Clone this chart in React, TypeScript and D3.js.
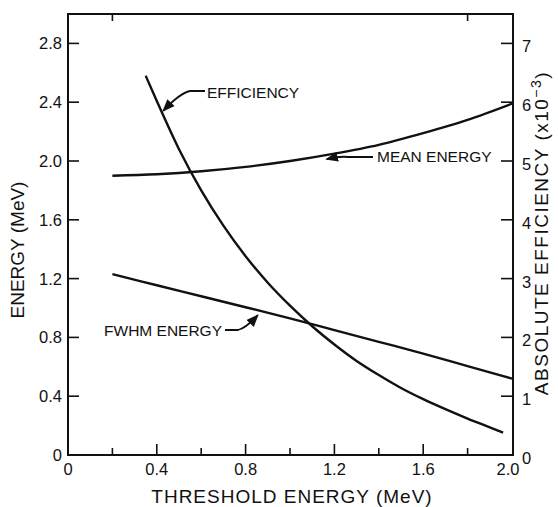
import React from "react";
import * as d3 from "d3";

// ---- data ----
const xTicksMajor = [0, 0.4, 0.8, 1.2, 1.6, 2.0];
const xTickLabels = ["0", "0.4", "0.8", "1.2", "1.6", "2.0"];
const xTicksMinor = [0.2, 0.6, 1.0, 1.4, 1.8];
const xTicksTop = [0.2, 1.8];
const yTicksLeft = [0.4, 0.8, 1.2, 1.6, 2.0, 2.4, 2.8];
const yLeftLabels = ["0", "0.4", "0.8", "1.2", "1.6", "2.0", "2.4", "2.8"];
const yTicksRight = [1, 2, 3, 4, 5, 6, 7];
const yRightLabels = ["0", "1", "2", "3", "4", "5", "6", "7"];

// mean energy (MeV) vs threshold (MeV)
const meanX = [0.2, 0.4, 0.6, 0.8, 1.0, 1.2, 1.4, 1.6, 1.8, 2.0];
const meanY = [1.9, 1.91, 1.93, 1.96, 2.0, 2.05, 2.11, 2.19, 2.28, 2.39];
// FWHM energy (MeV)
const fwhmX = [0.2, 0.4, 0.6, 0.8, 1.0, 1.2, 1.4, 1.6, 1.8, 2.0];
const fwhmY = [1.23, 1.155, 1.08, 1.005, 0.93, 0.85, 0.77, 0.69, 0.605, 0.52];
// absolute efficiency (x10^-3)
const effX = [0.35, 0.4, 0.5, 0.6, 0.7, 0.8, 0.9, 1.0, 1.1, 1.2, 1.3, 1.4, 1.5, 1.6, 1.7, 1.8, 1.9, 1.96];
const effY = [6.45, 6.02, 5.2, 4.5, 3.9, 3.38, 2.93, 2.54, 2.19, 1.88, 1.6, 1.36, 1.14, 0.95, 0.78, 0.62, 0.47, 0.38];

const FONT = "'Liberation Sans', Arial, sans-serif";

export default function App() {
  const W = 558, H = 507;
  const L = 68, R = 513, T = 14, B = 455;
  const x = d3.scaleLinear().domain([0, 2]).range([L, 512]);
  const yE = d3.scaleLinear().domain([0, 3]).range([B, T]);
  const yEff = d3.scaleLinear().domain([0, 7.5]).range([B, T]);

  const lineE = d3.line<[number, number]>().x(d => x(d[0])).y(d => yE(d[1])).curve(d3.curveMonotoneX);
  const lineEff = d3.line<[number, number]>().x(d => x(d[0])).y(d => yEff(d[1])).curve(d3.curveMonotoneX);

  const meanPts = meanX.map((v, i) => [v, meanY[i]] as [number, number]);
  const fwhmPts = fwhmX.map((v, i) => [v, fwhmY[i]] as [number, number]);
  const effPts = effX.map((v, i) => [v, effY[i]] as [number, number]);

  const stroke = "#111";

  // annotation anchor points on curves
  const effTip = [x(0.42) + 2, yEff(5.87) + 1];
  const fwhmTip = [x(0.855), yE(0.985) + 5];
  const meanTip = [x(1.165), yE(2.04) + 4];

  return (
    <svg width={W} height={H} style={{ position: "absolute", left: 0, top: 0, background: "#fff" }}
      fontFamily={FONT}>
      <defs>
        <marker id="ah" viewBox="0 0 10 10" refX="9" refY="5" markerWidth="7" markerHeight="7" orient="auto">
          <path d="M0,1 L10,5 L0,9 Z" fill={stroke} />
        </marker>
      </defs>
      {/* frame */}
      <path d={`M${L},${T} L${L},${B} L${R},${B} L${R},${T} Z`} fill="none" stroke={stroke} strokeWidth={2} />

      {/* bottom ticks */}
      {xTicksMajor.slice(1, -1).map(t => (
        <line key={"xm" + t} x1={x(t)} x2={x(t)} y1={B} y2={B - 11} stroke={stroke} strokeWidth={1.6} />
      ))}
      {xTicksMinor.map(t => (
        <line key={"xn" + t} x1={x(t)} x2={x(t)} y1={B} y2={B - 7} stroke={stroke} strokeWidth={1.6} />
      ))}
      {xTicksTop.map(t => (
        <line key={"xt" + t} x1={x(t)} x2={x(t)} y1={T} y2={T + 7} stroke={stroke} strokeWidth={1.6} />
      ))}
      {xTicksMajor.map((t, i) => (
        <text key={"xl" + t} x={x(t) - (i === xTicksMajor.length - 1 ? 4 : 0)} y={475} fontSize={16.5}
          textAnchor="middle" fill={stroke}>{xTickLabels[i]}</text>
      ))}

      {/* left ticks */}
      {yTicksLeft.map(t => (
        <line key={"yl" + t} x1={L} x2={L + 11} y1={yE(t)} y2={yE(t)} stroke={stroke} strokeWidth={1.6} />
      ))}
      {[0, ...yTicksLeft].map((t, i) => (
        <text key={"yll" + t} x={62} y={yE(t) + 6} fontSize={16.5} textAnchor="end" fill={stroke}>{yLeftLabels[i]}</text>
      ))}

      {/* right ticks */}
      {yTicksRight.map(t => (
        <line key={"yr" + t} x1={R} x2={R - 12} y1={yEff(t)} y2={yEff(t)} stroke={stroke} strokeWidth={1.6} />
      ))}
      {[0, ...yTicksRight].map((t, i) => (
        <text key={"yrl" + t} x={522} y={yEff(t) + 9} fontSize={16.5} textAnchor="start" fill={stroke}>{yRightLabels[i]}</text>
      ))}

      {/* curves */}
      <path d={lineE(meanPts) || ""} fill="none" stroke={stroke} strokeWidth={2.4} />
      <path d={lineE(fwhmPts) || ""} fill="none" stroke={stroke} strokeWidth={2.4} />
      <path d={lineEff(effPts) || ""} fill="none" stroke={stroke} strokeWidth={2.4} />

      {/* annotations */}
      <path d={`M205,91 L190,91 Q180,93 ${effTip[0]},${effTip[1]}`} fill="none" stroke={stroke} strokeWidth={1.8} markerEnd="url(#ah)" />
      <text x={207} y={98} fontSize={15.5} fill={stroke}>EFFICIENCY</text>

      <path d={`M225,330 L238,330 Q246,328 ${fwhmTip[0]},${fwhmTip[1]}`} fill="none" stroke={stroke} strokeWidth={1.8} markerEnd="url(#ah)" />
      <text x={222} y={336} fontSize={15.5} textAnchor="end" fill={stroke}>FWHM ENERGY</text>

      <path d={`M373,157 L348,157 Q340,156 ${meanTip[0]},${meanTip[1]}`} fill="none" stroke={stroke} strokeWidth={1.8} markerEnd="url(#ah)" />
      <text x={377} y={162} fontSize={15.5} fill={stroke}>MEAN ENERGY</text>

      {/* axis titles */}
      <text x={292} y={503} fontSize={19} letterSpacing={1} textAnchor="middle" fill={stroke}>THRESHOLD ENERGY (MeV)</text>
      <text transform="translate(24,250) rotate(-90)" fontSize={19} textAnchor="middle" fill={stroke}>ENERGY (MeV)</text>
      <text transform="translate(548,233) rotate(-90)" fontSize={19} letterSpacing={1.5} textAnchor="middle" fill={stroke}>
        ABSOLUTE EFFICIENCY (x10<tspan dy={-7} fontSize={14}>−3</tspan><tspan dy={7}>)</tspan>
      </text>
    </svg>
  );
}
